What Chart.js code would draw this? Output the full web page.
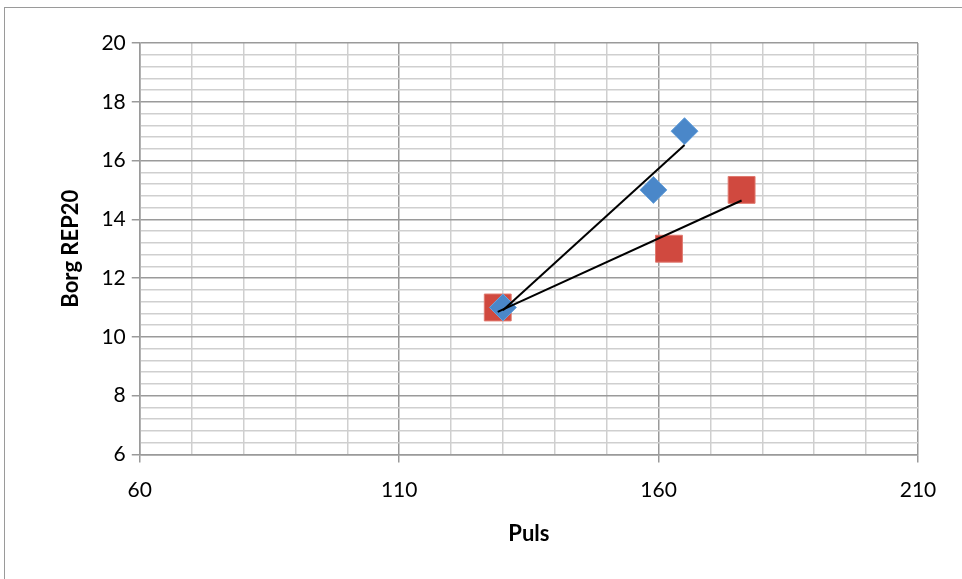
<!DOCTYPE html>
<html>
<head>
<meta charset="utf-8">
<script src="https://cdn.jsdelivr.net/npm/chart.js@4"></script>
<style>
html,body{margin:0;padding:0;background:#fff;}
#wrap{position:absolute;left:0;top:0;width:962px;height:579px;}
#frame{position:absolute;left:4px;top:7px;width:970px;height:590px;border:1px solid #9a9a9a;box-sizing:border-box;}
#c{position:absolute;left:0;top:0;}
</style>
</head>
<body>
<div id="wrap">
<div id="frame"></div>
<canvas id="c" width="962" height="579"></canvas>
</div>
<script>
const seriesAX = [130, 159, 165];
const seriesAY = [11, 15, 17];
const seriesBX = [129, 162, 176];
const seriesBY = [11, 13, 15];
const xMajorTicks = [60, 110, 160, 210];
const yMajorTicks = [6, 8, 10, 12, 14, 16, 18, 20];
const xTitle = 'Puls';
const yTitle = 'Borg REP20';

function pts(xs, ys){ return xs.map((x,i)=>({x:x, y:ys[i]})); }
function trend(xs, ys){
  const n = xs.length;
  const mx = xs.reduce((a,b)=>a+b,0)/n, my = ys.reduce((a,b)=>a+b,0)/n;
  let sxy=0, sxx=0;
  for(let i=0;i<n;i++){ sxy+=(xs[i]-mx)*(ys[i]-my); sxx+=(xs[i]-mx)*(xs[i]-mx); }
  const b = sxy/sxx, a = my - b*mx;
  const x0 = Math.min(...xs), x1 = Math.max(...xs);
  return [{x:x0, y:a+b*x0},{x:x1, y:a+b*x1}];
}
const near = (v, arr) => arr.some(t => Math.abs(t - v) < 1e-6);
const FONT = 'Lato, "Open Sans", sans-serif';

new Chart(document.getElementById('c'), {
  type: 'scatter',
  data: {
    datasets: [
      { label:'trendB', data: trend(seriesBX, seriesBY), type:'line', borderColor:'#000', borderWidth:2, pointRadius:0, fill:false, order:0 },
      { label:'trendA', data: trend(seriesAX, seriesAY), type:'line', borderColor:'#000', borderWidth:2, pointRadius:0, fill:false, order:0 },
      { label:'A', data: pts(seriesAX, seriesAY), pointStyle:'rectRot', pointRadius:13.5, backgroundColor:'#4a87c9', borderColor:'#6aa3dc', borderWidth:1, order:1 },
      { label:'B', data: pts(seriesBX, seriesBY), pointStyle:'rect', pointRadius:19, backgroundColor:'#d0493f', borderColor:'#e07a70', borderWidth:1, order:2 }
    ]
  },
  options: {
    responsive:false, animation:false,
    layout:{ padding:{ left:54, right:44, top:43, bottom:28 } },
    plugins:{ legend:{display:false}, tooltip:{enabled:false} },
    scales:{
      x:{
        type:'linear', min:60, max:210,
        ticks:{ stepSize:10, color:'#000', font:{family:FONT, size:21}, padding:15, maxRotation:0, autoSkip:false,
          callback:(v)=> near(v, xMajorTicks) ? String(v) : '' },
        grid:{ color:(c)=> near(c.tick.value, xMajorTicks) ? '#9a9a9a' : '#cfcfcf', lineWidth:1.5,
          tickColor:(c)=> near(c.tick.value, xMajorTicks) ? '#9a9a9a' : 'rgba(0,0,0,0)', tickLength:8 },
        border:{ color:'#9a9a9a', width:1.5 },
        title:{ display:true, text:xTitle, color:'#000', font:{family:FONT, size:22, weight:'bold'}, padding:{top:3} }
      },
      y:{
        type:'linear', min:6, max:20,
        ticks:{ stepSize:0.4, color:'#000', font:{family:FONT, size:21}, padding:6, autoSkip:false,
          callback:(v)=> near(v, yMajorTicks) ? String(Math.round(v)) : '' },
        grid:{ color:(c)=> near(c.tick.value, yMajorTicks) ? '#9a9a9a' : '#cfcfcf', lineWidth:1.5,
          tickColor:(c)=> near(c.tick.value, yMajorTicks) ? '#9a9a9a' : 'rgba(0,0,0,0)', tickLength:8 },
        border:{ color:'#9a9a9a', width:1.5 },
        title:{ display:true, text:yTitle, color:'#000', font:{family:FONT, size:22, weight:'bold'}, padding:{bottom:11} }
      }
    }
  }
});
</script>
</body>
</html>
